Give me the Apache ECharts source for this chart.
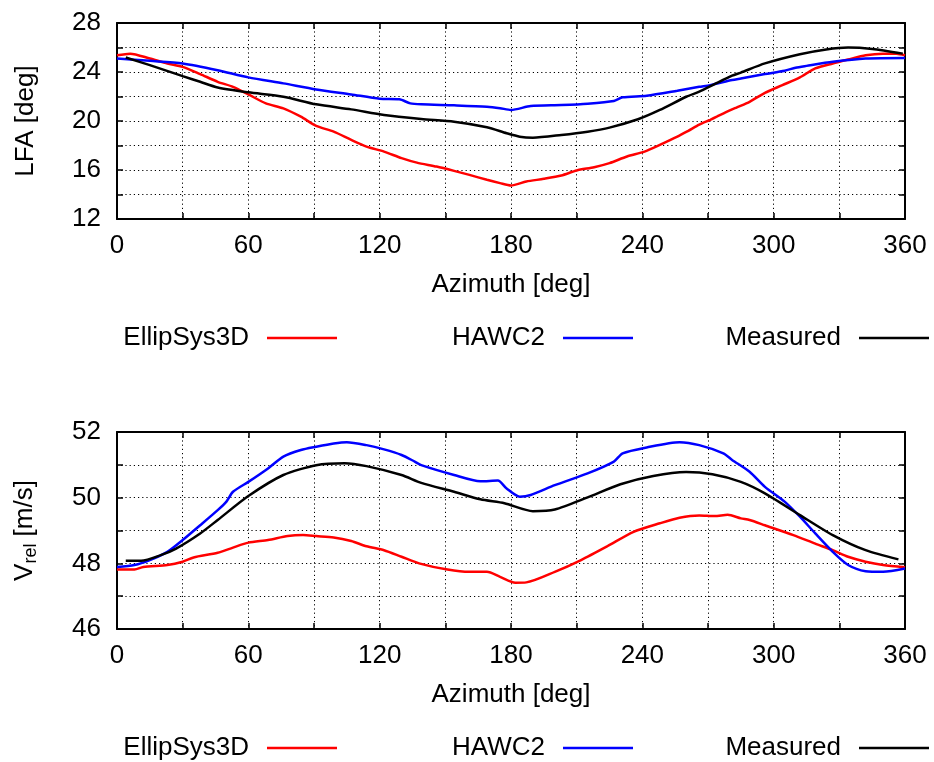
<!DOCTYPE html>
<html>
<head>
<meta charset="utf-8">
<script src="https://cdn.jsdelivr.net/npm/echarts@6/dist/echarts.min.js"></script>
<style>html,body{margin:0;padding:0;background:#fff}#c{width:934px;height:762px}</style>
</head>
<body>
<div id="c"></div>
<script>
// Top panel: LFA [deg] vs azimuth [deg]
var lfaEllipSys3D = [[0,25.37],[6,25.5],[15,25.1],[23,24.7],[30,24.42],[38,23.83],[46,23.2],[53,22.79],[60,22.17],[68,21.44],[76,21.03],[84,20.35],[91,19.6],[99,19.13],[107,18.46],[114,17.91],[122,17.5],[130,16.97],[137,16.6],[146,16.28],[154,15.93],[161,15.6],[169,15.2],[175,14.93],[180,14.74],[187,15.06],[195,15.28],[203,15.55],[210,15.96],[218,16.23],[225,16.56],[233,17.1],[241,17.5],[248,18.05],[256,18.72],[261,19.2],[266,19.7],[271,20.1],[274,20.35],[278,20.7],[283,21.1],[289,21.57],[296,22.3],[304,22.93],[312,23.56],[319,24.29],[327,24.7],[334,25.02],[342,25.37],[350,25.5],[356,25.5],[360,25.37]];
var lfaHAWC2 = [[0,25.1],[15,24.91],[30,24.7],[46,24.15],[60,23.56],[76,23.07],[91,22.58],[107,22.17],[120,21.82],[129,21.77],[134,21.44],[139,21.36],[154,21.28],[169,21.17],[175,21.05],[180,20.9],[189,21.22],[203,21.3],[215,21.41],[227,21.63],[231,21.93],[242,22.06],[256,22.47],[266,22.79],[271,22.93],[281,23.34],[285,23.47],[296,23.83],[305,24.1],[310,24.35],[315,24.5],[327,24.83],[342,25.1],[360,25.15]];
var lfaMeasured = [[4,25.18],[15,24.56],[30,23.66],[38,23.2],[46,22.74],[60,22.34],[76,21.98],[91,21.36],[107,20.95],[122,20.49],[139,20.16],[154,19.94],[169,19.49],[178,19.0],[184,18.72],[190,18.64],[203,18.86],[215,19.13],[225,19.46],[238,20.14],[248,20.9],[260,21.98],[266,22.39],[273,23.01],[281,23.7],[285,23.95],[296,24.7],[312,25.45],[324,25.84],[334,26.0],[345,25.88],[359,25.5]];

// Bottom panel: Vrel [m/s] vs azimuth [deg]
var vrelEllipSys3D = [[0,47.81],[8,47.81],[12,47.89],[23,47.95],[30,48.05],[35,48.18],[46,48.32],[53,48.48],[60,48.63],[69,48.71],[78,48.83],[85,48.86],[91,48.83],[99,48.79],[107,48.68],[114,48.52],[122,48.4],[130,48.2],[138,48.0],[151,47.81],[161,47.74],[169,47.74],[175,47.59],[182,47.41],[187,47.42],[200,47.74],[212,48.1],[224,48.52],[236,48.96],[248,49.22],[257,49.39],[266,49.46],[273,49.44],[279,49.48],[285,49.37],[289,49.32],[296,49.16],[309,48.86],[319,48.6],[327,48.4],[334,48.2],[342,48.05],[350,47.95],[360,47.88]];
var vrelHAWC2 = [[0,47.89],[8,47.95],[15,48.1],[23,48.35],[30,48.71],[38,49.16],[46,49.62],[50,49.88],[53,50.18],[60,50.48],[69,50.89],[76,51.25],[84,51.45],[91,51.55],[99,51.65],[105,51.69],[114,51.6],[122,51.47],[130,51.3],[136,51.1],[139,50.99],[154,50.69],[166,50.5],[174,50.52],[178,50.28],[184,50.03],[189,50.08],[200,50.38],[215,50.74],[227,51.1],[231,51.35],[242,51.53],[257,51.69],[266,51.6],[277,51.35],[281,51.15],[289,50.79],[296,50.33],[305,49.88],[312,49.42],[319,48.91],[327,48.35],[334,47.95],[342,47.76],[350,47.74],[360,47.84]];
var vrelMeasured = [[4,48.08],[11,48.08],[20,48.25],[27,48.45],[38,48.91],[46,49.32],[60,50.05],[76,50.69],[91,50.99],[104,51.05],[114,50.96],[130,50.69],[139,50.45],[154,50.18],[166,49.95],[177,49.83],[190,49.59],[200,49.64],[215,50.01],[230,50.41],[245,50.66],[260,50.78],[272,50.71],[285,50.48],[296,50.13],[312,49.47],[327,48.86],[342,48.4],[357,48.12]];

var seriesNames = ['EllipSys3D','HAWC2','Measured'];
var seriesColors = ['#ff0000','#0000ff','#000000'];
var xTicks = {min:0, max:360, step:30, labelStep:60};
var lfaTicks = {min:12, max:28, step:2, labelStep:4};
var vrelTicks = {min:46, max:52, step:1, labelStep:2};

var FONT = 'Liberation Sans, Arial, Helvetica, sans-serif';
var FS = 26;

function mkAxis(kind, gridIndex, ticks, position, showLabels, name, nameGap, extra) {
  var a = {
    type: 'value', gridIndex: gridIndex, position: position,
    min: ticks.min, max: ticks.max, interval: ticks.step,
    axisLine: {show: true, onZero: false, lineStyle: {color: '#000', width: 2}},
    axisTick: {show: true, inside: true, length: 6, lineStyle: {color: '#000', width: 1.5}},
    splitLine: {show: showLabels, lineStyle: {color: '#000', width: 1, type: [1.2, 3]}},
    axisLabel: {
      show: showLabels, color: '#000', fontSize: FS, fontFamily: FONT,
      margin: kind === 'x' ? 14 : 16,
      formatter: function (v) { return (Math.round(v) % ticks.labelStep === 0) ? String(Math.round(v)) : ''; }
    }
  };
  if (name) {
    a.name = name; a.nameLocation = 'middle'; a.nameGap = nameGap;
    a.nameTextStyle = Object.assign({color: '#000', fontSize: FS, fontFamily: FONT}, extra || {});
  }
  return a;
}

var grids = [
  {left: 117, right: 29, top: 23, height: 196},
  {left: 117, right: 29, top: 432, height: 197}
];

var xAxes = [
  mkAxis('x', 0, xTicks, 'bottom', true, 'Azimuth [deg]', 53),
  mkAxis('x', 0, xTicks, 'top', false),
  mkAxis('x', 1, xTicks, 'bottom', true, 'Azimuth [deg]', 53),
  mkAxis('x', 1, xTicks, 'top', false)
];
var yAxes = [
  mkAxis('y', 0, lfaTicks, 'left', true, 'LFA [deg]', 78),
  mkAxis('y', 0, lfaTicks, 'right', false),
  mkAxis('y', 1, vrelTicks, 'left', true, '{v|V}{s|rel}{v| [m/s]}', 77, {
    rich: {
      v: {fontSize: FS, fontFamily: FONT, color: '#000'},
      s: {fontSize: 18, fontFamily: FONT, color: '#000', padding: [12, 0, 0, 0]}
    }
  }),
  mkAxis('y', 1, vrelTicks, 'right', false)
];

var topData = [lfaEllipSys3D, lfaHAWC2, lfaMeasured];
var botData = [vrelEllipSys3D, vrelHAWC2, vrelMeasured];
var series = [];
for (var i = 0; i < 3; i++) {
  series.push({type: 'line', name: seriesNames[i], xAxisIndex: 0, yAxisIndex: 0, data: topData[i],
    symbol: 'none', smooth: 0.25, color: seriesColors[i], lineStyle: {width: 2.5, color: seriesColors[i]}});
  series.push({type: 'line', name: seriesNames[i], xAxisIndex: 2, yAxisIndex: 2, data: botData[i],
    symbol: 'none', smooth: 0.25, color: seriesColors[i], lineStyle: {width: 2.5, color: seriesColors[i]}});
}

var legendRights = [597, 301, 5];
var legendTops = [325, 735];
var legends = [];
legendTops.forEach(function (t) {
  for (var i = 0; i < 3; i++) {
    legends.push({
      data: [seriesNames[i]], right: legendRights[i], top: t, align: 'right', padding: 0,
      icon: 'rect', itemWidth: 70, itemHeight: 2.5, itemGap: 0, selectedMode: false,
      textStyle: {color: '#000', fontSize: FS, fontFamily: FONT, padding: [0, 13, 0, 0]}
    });
  }
});

var chart = echarts.init(document.getElementById('c'), null, {renderer: 'canvas'});
chart.setOption({
  animation: false,
  backgroundColor: '#fff',
  grid: grids,
  xAxis: xAxes,
  yAxis: yAxes,
  legend: legends,
  series: series
});
</script>
</body>
</html>
